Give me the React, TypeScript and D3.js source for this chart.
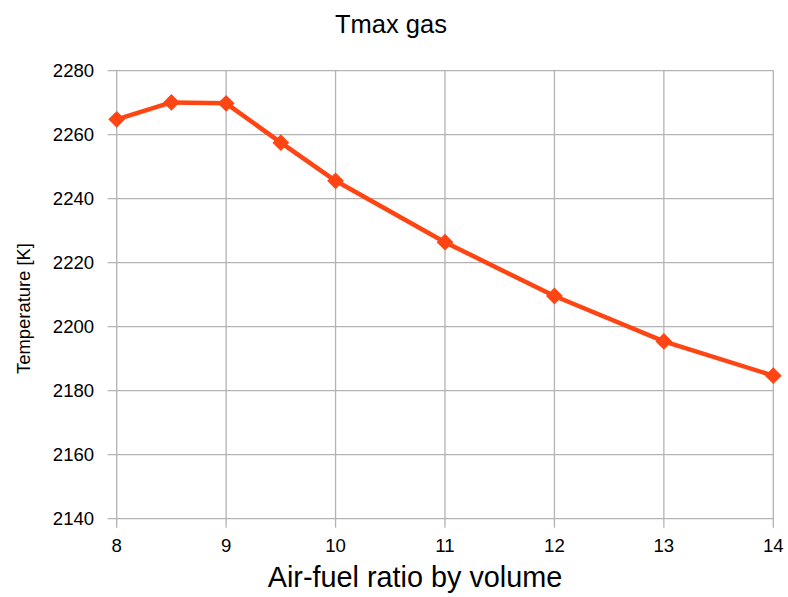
import React from "react";
import * as d3 from "d3";

const xValues = [8, 8.5, 9, 9.5, 10, 11, 12, 13, 14];
const tempValues = [2264.8, 2270.1, 2269.8, 2257.5, 2245.6, 2226.4, 2209.6, 2195.4, 2184.7];
const xTicks = [8, 9, 10, 11, 12, 13, 14];
const yTicks = [2140, 2160, 2180, 2200, 2220, 2240, 2260, 2280];
const title = "Tmax gas";
const xLabel = "Air-fuel ratio by volume";
const yLabel = "Temperature [K]";

const W = 788;
const H = 597;
const left = 116.7;
const right = 773.3;
const top = 70.7;
const bottom = 518.7;
const lineColor = "#ff4513";
const gridColor = "#b3b3b3";
const font = "'Liberation Sans', Arial, sans-serif";

export default function App() {
  const x = d3.scaleLinear().domain([8, 14]).range([left, right]);
  const y = d3.scaleLinear().domain([2140, 2280]).range([bottom, top]);
  const pts = xValues.map((v, i) => [v, tempValues[i]] as [number, number]);
  const line = d3
    .line<[number, number]>()
    .x((d) => x(d[0]))
    .y((d) => y(d[1]));
  const diamond = d3.symbol().type(d3.symbolDiamond2).size(180)();

  return (
    <svg
      width={W}
      height={H}
      style={{ position: "absolute", left: 0, top: 0, background: "#fff" }}
      fontFamily={font}
    >
      <rect width={W} height={H} fill="#fff" />
      {yTicks.map((t) => (
        <g key={"y" + t}>
          <line x1={left - 9} x2={right} y1={y(t)} y2={y(t)} stroke={gridColor} strokeWidth={1.3} />
          <text x={left - 22.5} y={y(t)} dy="0.36em" textAnchor="end" fontSize={18.6} fill="#000">
            {t}
          </text>
        </g>
      ))}
      {xTicks.map((t) => (
        <g key={"x" + t}>
          <line x1={x(t)} x2={x(t)} y1={top} y2={bottom + 9} stroke={gridColor} strokeWidth={1.3} />
          <text x={x(t)} y={552} textAnchor="middle" fontSize={18.6} fill="#000">
            {t}
          </text>
        </g>
      ))}
      <path d={line(pts) || ""} fill="none" stroke={lineColor} strokeWidth={4.5} strokeLinejoin="round" />
      {pts.map((p, i) => (
        <path key={i} d={diamond || ""} transform={`translate(${x(p[0])},${y(p[1])})`} fill={lineColor} />
      ))}
      <text x={391} y={33} textAnchor="middle" fontSize={25.5} fill="#000">
        {title}
      </text>
      <text x={415} y={587} textAnchor="middle" fontSize={28.8} fill="#000">
        {xLabel}
      </text>
      <text
        transform={`translate(30, 308.5) rotate(-90)`}
        textAnchor="middle"
        fontSize={18.4}
        fill="#000"
      >
        {yLabel}
      </text>
    </svg>
  );
}
